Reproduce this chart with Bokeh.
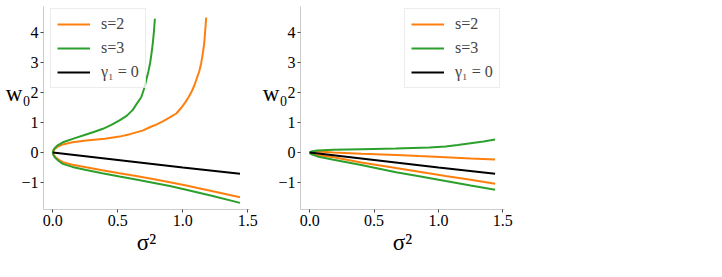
from bokeh.plotting import figure
from bokeh.layouts import row
from bokeh.models import Range1d, FixedTicker, Legend, LegendItem
from bokeh.embed import file_html
from bokeh.resources import INLINE

ORANGE = "#ff7f0e"
GREEN = "#2ca02c"
FONT = "Liberation Serif"

# ---- data ----
x_ticks = [0.0, 0.5, 1.0, 1.5]
x_tick_labels = ["0.0", "0.5", "1.0", "1.5"]
y_ticks = [-1, 0, 1, 2, 3, 4]
y_tick_labels = ["\u22121", "0", "1", "2", "3", "4"]

# left panel, s=2 : upper branch (top -> origin) then lower branch (origin -> end)
L_s2_x = [1.18, 1.172, 1.165, 1.153, 1.14, 1.126, 1.11, 1.09, 1.07, 1.045, 1.02, 0.99, 0.95, 0.9, 0.846, 0.8,
          0.75, 0.69, 0.6, 0.513, 0.4, 0.256, 0.15, 0.077, 0.04, 0.02, 0.008, 0.0,
          0.0025, 0.01, 0.026, 0.05, 0.077, 0.15, 0.256, 0.38, 0.513, 0.64, 0.77, 0.9, 1.026, 1.23, 1.44]
L_s2_y = [4.5, 4.05, 3.65, 3.28, 2.95, 2.7, 2.5, 2.25, 2.05, 1.85, 1.68, 1.5, 1.3, 1.17, 1.04, 0.94,
          0.85, 0.73, 0.62, 0.53, 0.46, 0.4, 0.34, 0.27, 0.2, 0.14, 0.08, 0.0,
          -0.05, -0.1, -0.18, -0.25, -0.32, -0.41, -0.49, -0.59, -0.69, -0.78, -0.88, -0.99, -1.1, -1.29, -1.49]
# left panel, s=3
L_s3_x = [0.785, 0.778, 0.77, 0.76, 0.749, 0.735, 0.718, 0.70, 0.68, 0.645, 0.615, 0.57, 0.513, 0.45, 0.385,
          0.32, 0.256, 0.17, 0.077, 0.04, 0.015, 0.004, 0.0,
          0.003, 0.01, 0.026, 0.05, 0.077, 0.15, 0.256, 0.38, 0.513, 0.64, 0.77, 0.9, 1.026, 1.23, 1.44]
L_s3_y = [4.46, 4.05, 3.68, 3.33, 3.0, 2.7, 2.4, 2.1, 1.84, 1.62, 1.42, 1.23, 1.07, 0.92, 0.79,
          0.69, 0.6, 0.48, 0.34, 0.25, 0.15, 0.08, 0.0,
          -0.07, -0.13, -0.21, -0.3, -0.38, -0.48, -0.58, -0.69, -0.8, -0.9, -1.01, -1.12, -1.24, -1.45, -1.68]
# gamma_1 = 0 (both panels)
g0_x = [0.0, 0.5, 1.0, 1.44]
g0_y = [0.0, -0.25, -0.5, -0.71]

# right panel, s=2
R_s2_x = [1.44, 1.25, 1.055, 0.85, 0.67, 0.4, 0.185, 0.06, 0.02, 0.0,
          0.005, 0.02, 0.06, 0.185, 0.4, 0.67, 0.85, 1.055, 1.25, 1.44]
R_s2_y = [-0.23, -0.2, -0.16, -0.12, -0.08, -0.04, 0.0, 0.03, 0.02, 0.0,
          -0.02, -0.04, -0.08, -0.16, -0.33, -0.52, -0.64, -0.78, -0.91, -1.04]
# right panel, s=3
R_s3_x = [1.44, 1.35, 1.25, 1.15, 1.055, 0.93, 0.8, 0.67, 0.4, 0.185, 0.06, 0.02, 0.005, 0.0,
          0.005, 0.02, 0.06, 0.185, 0.4, 0.67, 0.85, 1.055, 1.25, 1.44]
R_s3_y = [0.43, 0.37, 0.31, 0.25, 0.2, 0.17, 0.15, 0.13, 0.11, 0.09, 0.067, 0.04, 0.02, 0.0,
          -0.035, -0.07, -0.13, -0.24, -0.42, -0.66, -0.79, -0.95, -1.1, -1.24]

legend_labels = ["s=2", "s=3", "\u03b3\u2081 = 0"]
x_label = "\u03c3\u00b2"
y_label = "w\u2080\n"


def make_panel(width, left, right, s2x, s2y, s3x, s3y, legend_x):
    p = figure(width=width, height=277, output_backend="svg", toolbar_location=None,
               x_range=Range1d(-0.072, 1.513), y_range=Range1d(-1.9, 4.867),
               min_border_left=left, min_border_right=right,
               min_border_top=6, min_border_bottom=68)
    p.outline_line_color = None
    p.grid.visible = False
    p.background_fill_color = "white"
    p.border_fill_color = "white"
    for ax, ticks, labels in ((p.xaxis[0], x_ticks, x_tick_labels), (p.yaxis[0], y_ticks, y_tick_labels)):
        ax.ticker = FixedTicker(ticks=ticks)
        ax.major_label_overrides = {t: l for t, l in zip(ticks, labels)}
        ax.axis_line_color = "#cccccc"
        ax.axis_line_width = 1
        ax.major_tick_line_color = "#444444"
        ax.major_tick_out = 3
        ax.major_tick_in = 0
        ax.minor_tick_line_color = None
        ax.major_label_text_font = FONT
        ax.major_label_text_font_size = "16px"
        ax.major_label_text_color = "black"
        ax.major_label_standoff = 2
        ax.axis_label_text_font = FONT
        ax.axis_label_text_font_size = "23px"
        ax.axis_label_text_font_style = "normal"
        ax.axis_label_text_color = "black"
    p.xaxis.axis_label = x_label
    p.xaxis.axis_label_standoff = 1
    p.yaxis.axis_label = y_label
    p.yaxis.axis_label_orientation = "horizontal"
    p.yaxis.axis_label_standoff = -12

    r1 = p.line(s2x, s2y, line_color=ORANGE, line_width=2)
    r2 = p.line(s3x, s3y, line_color=GREEN, line_width=2)
    r3 = p.line(g0_x, g0_y, line_color="black", line_width=2)

    leg = Legend(items=[LegendItem(label=legend_labels[0], renderers=[r1]),
                        LegendItem(label=legend_labels[1], renderers=[r2]),
                        LegendItem(label=legend_labels[2], renderers=[r3])],
                 location=(legend_x, 121), margin=0, padding=6, spacing=6,
                 glyph_width=33, glyph_height=16, label_height=16, label_standoff=11,
                 label_text_font=FONT, label_text_font_size="16px",
                 border_line_color="#d9d9d9", border_line_width=1,
                 background_fill_color="white", background_fill_alpha=0.8)
    p.add_layout(leg)
    return p


p1 = make_panel(259, 43, 10, L_s2_x, L_s2_y, L_s3_x, L_s3_y, 7)
p2 = make_panel(463, 39, 218, R_s2_x, R_s2_y, R_s3_x, R_s3_y, 104)

layout = row(p1, p2, spacing=0)
open("out.html", "w").write(file_html(layout, INLINE))
